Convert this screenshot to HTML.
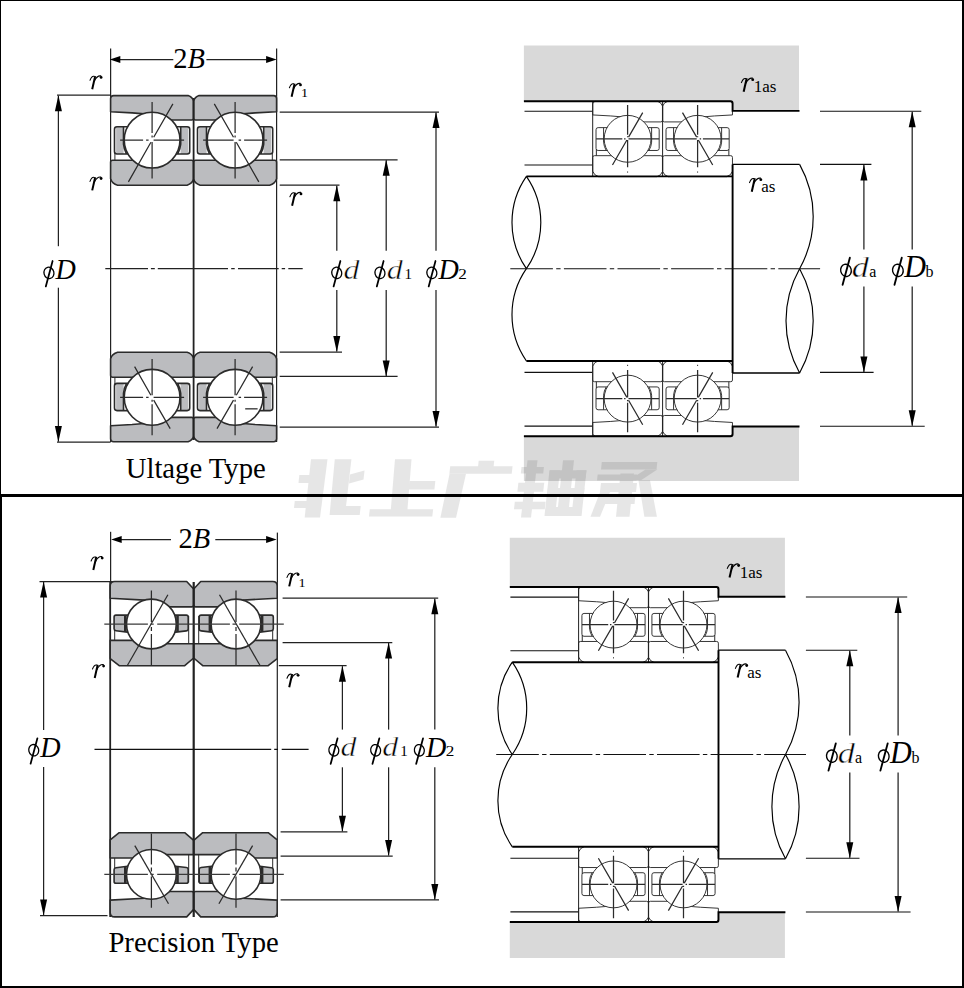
<!DOCTYPE html>
<html><head><meta charset="utf-8"><title>Bearing dimensions</title>
<style>
html,body{margin:0;padding:0;background:#fff;}
body{width:964px;height:988px;overflow:hidden;font-family:"Liberation Serif",serif;}
svg{display:block;}
</style></head><body>
<svg width="964" height="988" viewBox="0 0 964 988">
<rect x="0" y="0" width="964" height="988" fill="#fff"/>
<g transform="translate(0,0)">
<path d="M523.9,45.6 L799,45.6 L799,110.9 L732.6,110.9 L732.6,101.2 L523.9,101.2 Z" fill="#d9d9d9"/>
<path d="M523.9,481.1 L799,481.1 L799,426.5 L732.6,426.5 L732.6,436.2 L523.9,436.2 Z" fill="#d9d9d9"/>
<g opacity="0.095">
<polygon points="311,459.3 327.5,459.3 320,517.4 304.7,517.4" fill="#000"/>
<polygon points="299.38,475 312.88,475 312,483 298.5,483" fill="#000"/>
<polygon points="294.77,501 308.77,501 308,508 294,508" fill="#000"/>
<polygon points="334.8,459.3 351.4,459.3 345,515 329.6,515" fill="#000"/>
<polygon points="350,474.5 364.5,470.5 363.5,479.5 349,483.5" fill="#000"/>
<polygon points="344.99,506 360.69,506 359.7,515 344,515" fill="#000"/>
<polygon points="395,459.3 411.5,459.3 407.4,510 390.8,510" fill="#000"/>
<polygon points="409.42,481 435.32,481 434.4,489.4 408.5,489.4" fill="#000"/>
<polygon points="369.8,509.3 433.1,509.3 432.3,516.6 369,516.6" fill="#000"/>
<polygon points="478.71,460.7 494.21,460.7 493.5,467.2 478,467.2" fill="#000"/>
<polygon points="450.24,466.2 512.54,466.2 511.7,473.8 449.4,473.8" fill="#000"/>
<polygon points="449.6,473.8 466,473.8 456,517.8 440.4,517.8" fill="#000"/>
<polygon points="527.5,460.3 537.5,460.3 531,517.6 521,517.6" fill="#000"/>
<polygon points="521.53,467 543.93,467 543.2,473.6 520.8,473.6" fill="#000"/>
<polygon points="518.4,482.7 544.2,482.7 543.2,491.8 517.4,491.8" fill="#000"/>
<polygon points="514.83,501.8 545.62,501.8 544.8,509.3 514,509.3" fill="#000"/>
<polygon points="549.5,470.3 560,470.3 555,515.9 544.5,515.9" fill="#000"/>
<polygon points="563,460.3 574,460.3 568,515.9 557,515.9" fill="#000"/>
<polygon points="576.5,470.3 586.5,470.3 581.5,515.9 571.5,515.9" fill="#000"/>
<polygon points="549.9,470.3 586.4,470.3 585.5,478.5 549,478.5" fill="#000"/>
<polygon points="547.99,488 584.49,488 583.5,497 547,497" fill="#000"/>
<polygon points="545.98,507 581.98,507 581,515.9 545,515.9" fill="#000"/>
<polygon points="601.81,462 657.31,462 656.5,469.4 601,469.4" fill="#000"/>
<polygon points="645.5,469.4 657.3,469.4 641,480.2 629,480.2" fill="#000"/>
<polygon points="620.5,473.6 634,473.6 629.5,516.7 616,516.7" fill="#000"/>
<polygon points="597.68,474.4 637.18,474.4 636.5,480.6 597,480.6" fill="#000"/>
<polygon points="600.99,483 636.99,483 636,492 600,492" fill="#000"/>
<polygon points="598.88,496 635.38,496 634.5,504 598,504" fill="#000"/>
<polygon points="603.5,483.5 613.5,483.5 600,516.7 590.5,516.7" fill="#000"/>
<polygon points="638.5,480.2 650,480.2 656.9,516.7 644.4,516.7" fill="#000"/>
</g>
<path d="M524.5,111.3 L592.7,111.3" stroke="#111" stroke-width="1.1" fill="none"/>
<path d="M524.5,165 L592.7,165" stroke="#111" stroke-width="1.1" fill="none"/>
<path d="M524.5,372.4 L592.7,372.4" stroke="#111" stroke-width="1.1" fill="none"/>
<path d="M524.5,426.1 L592.7,426.1" stroke="#111" stroke-width="1.1" fill="none"/>
<g transform="translate(627.6,138.8) scale(0.84,0.84)" stroke="#2b2b2b" stroke-width="1.13" stroke-linejoin="round" stroke-linecap="butt" fill="none">
<path fill="none" d="M-38.5,-44.5 L36,-44.5 Q40.3,-43 41.5,-39 L41.5,-22.1 Q41.5,-20.1 39.5,-20.1 L14,-20.1 L0,-10 L-8,-26.2 L-20,-27.2 L-41.5,-28.4 L-41.5,-41.5 Q-41.5,-44.5 -38.5,-44.5 Z"/>
<path fill="none" d="M-39.5,20.1 L-14,20.1 L0,10 L14,20.1 L39.5,20.1 Q41.5,20.1 41.5,22.1 L41.5,39 Q40.1,43.6 35,45.1 L-34.5,45.1 Q-40,43.6 -41.5,38.6 L-41.5,22.1 Q-41.5,20.1 -39.5,20.1 Z"/>
<path fill="none" stroke="none" d="M-36,-13.3 L-28.5,-13.3 L-28.5,13.9 L-36,13.9 Z"/>
<path fill="none" d="M-20,-13.3 L-35.1,-13.3 Q-37.6,-13.3 -37.6,-10.8 L-37.6,11.4 Q-37.6,13.9 -35.1,13.9 L-20,13.9 M-28.6,-13.3 L-28.6,4 Q-28.2,9 -25.5,13.9"/>
<path fill="none" stroke="none" d="M36,-13.3 L28.5,-13.3 L28.5,13.9 L36,13.9 Z"/>
<path fill="none" d="M20,-13.3 L35.1,-13.3 Q37.6,-13.3 37.6,-10.8 L37.6,11.4 Q37.6,13.9 35.1,13.9 L20,13.9 M28.6,-13.3 L28.6,4 Q28.2,9 25.5,13.9"/>
<path d="M-37.2,12.5 L-37.2,20.1" stroke-width="1.19"/>
<circle cx="0" cy="0" r="27.9" fill="#fff"/>
<path stroke-width="1.48" d="M0,-40.2 L0,-4.9 M0,-3.15 L0,-1.75 M0,1.4 L0,34"/>
<path stroke-width="1.48" d="M-37.5,0 L-6.3,0 M-4.2,0 L-2.45,0 M1.05,0 L37.5,0"/>
<path stroke-width="1.48" d="M18,-31.2 L1.12,-1.96 M-0.84,1.47 L-18,31.2"/>
</g>
<g transform="translate(627.6,398.6) scale(0.84,-0.84)" stroke="#2b2b2b" stroke-width="1.13" stroke-linejoin="round" stroke-linecap="butt" fill="none">
<path fill="none" d="M-38.5,-44.5 L36,-44.5 Q40.3,-43 41.5,-39 L41.5,-22.1 Q41.5,-20.1 39.5,-20.1 L14,-20.1 L0,-10 L-8,-26.2 L-20,-27.2 L-41.5,-28.4 L-41.5,-41.5 Q-41.5,-44.5 -38.5,-44.5 Z"/>
<path fill="none" d="M-39.5,20.1 L-14,20.1 L0,10 L14,20.1 L39.5,20.1 Q41.5,20.1 41.5,22.1 L41.5,39 Q40.1,43.6 35,45.1 L-34.5,45.1 Q-40,43.6 -41.5,38.6 L-41.5,22.1 Q-41.5,20.1 -39.5,20.1 Z"/>
<path fill="none" stroke="none" d="M-36,-13.3 L-28.5,-13.3 L-28.5,13.9 L-36,13.9 Z"/>
<path fill="none" d="M-20,-13.3 L-35.1,-13.3 Q-37.6,-13.3 -37.6,-10.8 L-37.6,11.4 Q-37.6,13.9 -35.1,13.9 L-20,13.9 M-28.6,-13.3 L-28.6,4 Q-28.2,9 -25.5,13.9"/>
<path fill="none" stroke="none" d="M36,-13.3 L28.5,-13.3 L28.5,13.9 L36,13.9 Z"/>
<path fill="none" d="M20,-13.3 L35.1,-13.3 Q37.6,-13.3 37.6,-10.8 L37.6,11.4 Q37.6,13.9 35.1,13.9 L20,13.9 M28.6,-13.3 L28.6,4 Q28.2,9 25.5,13.9"/>
<path d="M-37.2,12.5 L-37.2,20.1" stroke-width="1.19"/>
<circle cx="0" cy="0" r="27.9" fill="#fff"/>
<path stroke-width="1.48" d="M0,-40.2 L0,-4.9 M0,-3.15 L0,-1.75 M0,1.4 L0,34"/>
<path stroke-width="1.48" d="M-37.5,0 L-6.3,0 M-4.2,0 L-2.45,0 M1.05,0 L37.5,0"/>
<path stroke-width="1.48" d="M18,-31.2 L1.12,-1.96 M-0.84,1.47 L-18,31.2"/>
</g>
<g transform="translate(697.6,138.8) scale(-0.84,0.84)" stroke="#2b2b2b" stroke-width="1.13" stroke-linejoin="round" stroke-linecap="butt" fill="none">
<path fill="none" d="M-38.5,-44.5 L36,-44.5 Q40.3,-43 41.5,-39 L41.5,-22.1 Q41.5,-20.1 39.5,-20.1 L14,-20.1 L0,-10 L-8,-26.2 L-20,-27.2 L-41.5,-28.4 L-41.5,-41.5 Q-41.5,-44.5 -38.5,-44.5 Z"/>
<path fill="none" d="M-39.5,20.1 L-14,20.1 L0,10 L14,20.1 L39.5,20.1 Q41.5,20.1 41.5,22.1 L41.5,39 Q40.1,43.6 35,45.1 L-34.5,45.1 Q-40,43.6 -41.5,38.6 L-41.5,22.1 Q-41.5,20.1 -39.5,20.1 Z"/>
<path fill="none" stroke="none" d="M-36,-13.3 L-28.5,-13.3 L-28.5,13.9 L-36,13.9 Z"/>
<path fill="none" d="M-20,-13.3 L-35.1,-13.3 Q-37.6,-13.3 -37.6,-10.8 L-37.6,11.4 Q-37.6,13.9 -35.1,13.9 L-20,13.9 M-28.6,-13.3 L-28.6,4 Q-28.2,9 -25.5,13.9"/>
<path fill="none" stroke="none" d="M36,-13.3 L28.5,-13.3 L28.5,13.9 L36,13.9 Z"/>
<path fill="none" d="M20,-13.3 L35.1,-13.3 Q37.6,-13.3 37.6,-10.8 L37.6,11.4 Q37.6,13.9 35.1,13.9 L20,13.9 M28.6,-13.3 L28.6,4 Q28.2,9 25.5,13.9"/>
<path d="M-37.2,12.5 L-37.2,20.1" stroke-width="1.19"/>
<circle cx="0" cy="0" r="27.9" fill="#fff"/>
<path stroke-width="1.48" d="M0,-40.2 L0,-4.9 M0,-3.15 L0,-1.75 M0,1.4 L0,34"/>
<path stroke-width="1.48" d="M-37.5,0 L-6.3,0 M-4.2,0 L-2.45,0 M1.05,0 L37.5,0"/>
<path stroke-width="1.48" d="M18,-31.2 L1.12,-1.96 M-0.84,1.47 L-18,31.2"/>
</g>
<g transform="translate(697.6,398.6) scale(-0.84,-0.84)" stroke="#2b2b2b" stroke-width="1.13" stroke-linejoin="round" stroke-linecap="butt" fill="none">
<path fill="none" d="M-38.5,-44.5 L36,-44.5 Q40.3,-43 41.5,-39 L41.5,-22.1 Q41.5,-20.1 39.5,-20.1 L14,-20.1 L0,-10 L-8,-26.2 L-20,-27.2 L-41.5,-28.4 L-41.5,-41.5 Q-41.5,-44.5 -38.5,-44.5 Z"/>
<path fill="none" d="M-39.5,20.1 L-14,20.1 L0,10 L14,20.1 L39.5,20.1 Q41.5,20.1 41.5,22.1 L41.5,39 Q40.1,43.6 35,45.1 L-34.5,45.1 Q-40,43.6 -41.5,38.6 L-41.5,22.1 Q-41.5,20.1 -39.5,20.1 Z"/>
<path fill="none" stroke="none" d="M-36,-13.3 L-28.5,-13.3 L-28.5,13.9 L-36,13.9 Z"/>
<path fill="none" d="M-20,-13.3 L-35.1,-13.3 Q-37.6,-13.3 -37.6,-10.8 L-37.6,11.4 Q-37.6,13.9 -35.1,13.9 L-20,13.9 M-28.6,-13.3 L-28.6,4 Q-28.2,9 -25.5,13.9"/>
<path fill="none" stroke="none" d="M36,-13.3 L28.5,-13.3 L28.5,13.9 L36,13.9 Z"/>
<path fill="none" d="M20,-13.3 L35.1,-13.3 Q37.6,-13.3 37.6,-10.8 L37.6,11.4 Q37.6,13.9 35.1,13.9 L20,13.9 M28.6,-13.3 L28.6,4 Q28.2,9 25.5,13.9"/>
<path d="M-37.2,12.5 L-37.2,20.1" stroke-width="1.19"/>
<circle cx="0" cy="0" r="27.9" fill="#fff"/>
<path stroke-width="1.48" d="M0,-40.2 L0,-4.9 M0,-3.15 L0,-1.75 M0,1.4 L0,34"/>
<path stroke-width="1.48" d="M-37.5,0 L-6.3,0 M-4.2,0 L-2.45,0 M1.05,0 L37.5,0"/>
<path stroke-width="1.48" d="M18,-31.2 L1.12,-1.96 M-0.84,1.47 L-18,31.2"/>
</g>
<path d="M627.6,171.5 L627.6,172.6" stroke="#222" stroke-width="1" fill="none"/>
<path d="M627.6,364.8 L627.6,365.9" stroke="#222" stroke-width="1" fill="none"/>
<path d="M697.6,171.5 L697.6,172.6" stroke="#222" stroke-width="1" fill="none"/>
<path d="M697.6,364.8 L697.6,365.9" stroke="#222" stroke-width="1" fill="none"/>
<path d="M592.7,101.2 L592.7,176.4" stroke="#222" stroke-width="1" fill="none"/>
<path d="M592.7,361 L592.7,436.2" stroke="#222" stroke-width="1" fill="none"/>
<path d="M662.6,101.2 L662.6,176.4" stroke="#222" stroke-width="1" fill="none"/>
<path d="M662.6,361 L662.6,436.2" stroke="#222" stroke-width="1" fill="none"/>
<path d="M523.9,101.2 L730.6,101.2 Q732.6,101.2 732.6,103.2 L732.6,110.9 L799.5,110.9" fill="none" stroke="#000" stroke-width="1.9"/>
<path d="M523.9,436.2 L730.6,436.2 Q732.6,436.2 732.6,434.2 L732.6,426.5 L799.5,426.5" fill="none" stroke="#000" stroke-width="1.9"/>
<path d="M526.4,176.4 L732.6,176.4 M526.4,361 L732.6,361 M732.6,164.4 L732.6,373" fill="none" stroke="#000" stroke-width="1.9"/>
<path d="M732.6,164.4 L799.6,164.4 M732.6,373 L799.6,373" fill="none" stroke="#000" stroke-width="1.3"/>
<path d="M526.4,176.4 A81.1,81.1 0 0 0 526.4,268.7 A81.1,81.1 0 0 0 526.4,361 M526.4,176.4 A81.1,81.1 0 0 1 526.4,268.7" fill="none" stroke="#000" stroke-width="1.15"/>
<path d="M799.6,164.4 A106.8,106.8 0 0 1 799.6,268.7 A106.8,106.8 0 0 1 799.6,373 M799.6,268.7 A106.8,106.8 0 0 0 799.6,373" fill="none" stroke="#000" stroke-width="1.15"/>
<path d="M510.3,268.7 L820.1,268.7" stroke="#111" stroke-width="1.15" stroke-dasharray="42.6 3.3 4.4 3.3" fill="none"/>
<path d="M820,111.2 L921.3,111.2" stroke="#111" stroke-width="1.1" fill="none"/>
<path d="M820,426.2 L924.7,426.2" stroke="#111" stroke-width="1.1" fill="none"/>
<path d="M820,164.4 L871.4,164.4" stroke="#111" stroke-width="1.1" fill="none"/>
<path d="M820,372.4 L873.6,372.4" stroke="#111" stroke-width="1.1" fill="none"/>
<path d="M863.9,164.9 L863.9,249.6" stroke="#222" stroke-width="1.25" fill="none"/>
<path d="M863.9,286.6 L863.9,371.9" stroke="#222" stroke-width="1.25" fill="none"/>
<polygon points="863.9,164.4 860.4,180.4 867.4,180.4" fill="#000"/>
<polygon points="863.9,372.4 860.4,356.4 867.4,356.4" fill="#000"/>
<path d="M912.2,111.7 L912.2,249.6" stroke="#222" stroke-width="1.25" fill="none"/>
<path d="M912.2,286.6 L912.2,425.7" stroke="#222" stroke-width="1.25" fill="none"/>
<polygon points="912.2,111.2 908.7,127.2 915.7,127.2" fill="#000"/>
<polygon points="912.2,426.2 908.7,410.2 915.7,410.2" fill="#000"/>
<ellipse cx="845.97" cy="270.38" rx="5.3" ry="6.15" transform="rotate(-14 845.97 270.38)" fill="none" stroke="#000" stroke-width="1.39"/><path d="M849.87,257.65 L842.6,284.82" stroke="#000" stroke-width="1.87" stroke-linecap="round" fill="none"/>
<text transform="translate(851.77,276.8) scale(1,0.85)" font-family="'Liberation Serif', serif" font-size="34.24" font-style="italic" fill="#000" stroke="#fff" stroke-width="0.55">d</text>
<text transform="translate(869.2,276.8) scale(1,1)" font-family="'Liberation Serif', serif" font-size="16"  fill="#000">a</text>
<ellipse cx="897.87" cy="270.38" rx="5.3" ry="6.15" transform="rotate(-14 897.87 270.38)" fill="none" stroke="#000" stroke-width="1.39"/><path d="M901.77,257.65 L894.5,284.82" stroke="#000" stroke-width="1.87" stroke-linecap="round" fill="none"/>
<text transform="translate(904.13,277.1) scale(0.96,1)" font-family="'Liberation Serif', serif" font-size="31.35" font-style="italic" fill="#000">D</text>
<text transform="translate(925.6,276.8) scale(1,1)" font-family="'Liberation Serif', serif" font-size="16"  fill="#000">b</text>
<path d="M741.41,82.62 Q743.25,77.93 745.59,78.54" stroke="#000" stroke-width="1.07" stroke-linecap="round" fill="none"/><path d="M746.71,78.34 L743.65,91.8" stroke="#000" stroke-width="2.04" stroke-linecap="butt" fill="none"/><path d="M746,83.03 Q748.65,77.62 752.43,78.13" stroke="#000" stroke-width="1.12" stroke-linecap="round" fill="none"/><circle cx="752.73" cy="79.66" r="1.43" fill="#000"/>
<text transform="translate(753.8,91.9) scale(1,1)" font-family="'Liberation Serif', serif" font-size="17"  fill="#000">1as</text>
<path d="M749.51,182.62 Q751.35,177.93 753.69,178.54" stroke="#000" stroke-width="1.07" stroke-linecap="round" fill="none"/><path d="M754.81,178.34 L751.75,191.8" stroke="#000" stroke-width="2.04" stroke-linecap="butt" fill="none"/><path d="M754.1,183.03 Q756.75,177.62 760.53,178.13" stroke="#000" stroke-width="1.12" stroke-linecap="round" fill="none"/><circle cx="760.83" cy="179.66" r="1.43" fill="#000"/>
<text transform="translate(761.3,191.9) scale(1,1)" font-family="'Liberation Serif', serif" font-size="17"  fill="#000">as</text>
</g>
<g transform="translate(-14.1,485.8)">
<path d="M523.9,52 L799,52 L799,110.9 L732.6,110.9 L732.6,101.2 L523.9,101.2 Z" fill="#d9d9d9"/>
<path d="M523.9,472.2 L799,472.2 L799,426.5 L732.6,426.5 L732.6,436.2 L523.9,436.2 Z" fill="#d9d9d9"/>

<path d="M524.5,111.3 L592.7,111.3" stroke="#111" stroke-width="1.1" fill="none"/>
<path d="M524.5,165 L592.7,165" stroke="#111" stroke-width="1.1" fill="none"/>
<path d="M524.5,372.4 L592.7,372.4" stroke="#111" stroke-width="1.1" fill="none"/>
<path d="M524.5,426.1 L592.7,426.1" stroke="#111" stroke-width="1.1" fill="none"/>
<g transform="translate(627.6,138.8) scale(0.84,0.84)" stroke="#2b2b2b" stroke-width="1.13" stroke-linejoin="round" stroke-linecap="butt" fill="none">
<path fill="none" d="M-38.5,-44.5 L36,-44.5 Q40.3,-43 41.5,-39 L41.5,-22.1 Q41.5,-20.1 39.5,-20.1 L14,-20.1 L0,-10 L-8,-26.2 L-20,-27.2 L-41.5,-28.4 L-41.5,-41.5 Q-41.5,-44.5 -38.5,-44.5 Z"/>
<path fill="none" d="M-39.5,20.1 L-14,20.1 L0,10 L14,20.1 L39.5,20.1 Q41.5,20.1 41.5,22.1 L41.5,39 Q40.1,43.6 35,45.1 L-34.5,45.1 Q-40,43.6 -41.5,38.6 L-41.5,22.1 Q-41.5,20.1 -39.5,20.1 Z"/>
<path fill="none" stroke="none" d="M-36,-13.3 L-28.5,-13.3 L-28.5,13.9 L-36,13.9 Z"/>
<path fill="none" d="M-20,-13.3 L-35.1,-13.3 Q-37.6,-13.3 -37.6,-10.8 L-37.6,11.4 Q-37.6,13.9 -35.1,13.9 L-20,13.9 M-28.6,-13.3 L-28.6,4 Q-28.2,9 -25.5,13.9"/>
<path fill="none" stroke="none" d="M36,-13.3 L28.5,-13.3 L28.5,13.9 L36,13.9 Z"/>
<path fill="none" d="M20,-13.3 L35.1,-13.3 Q37.6,-13.3 37.6,-10.8 L37.6,11.4 Q37.6,13.9 35.1,13.9 L20,13.9 M28.6,-13.3 L28.6,4 Q28.2,9 25.5,13.9"/>
<path d="M-37.2,12.5 L-37.2,20.1" stroke-width="1.19"/>
<circle cx="0" cy="0" r="27.9" fill="#fff"/>
<path stroke-width="1.48" d="M0,-40.2 L0,-4.9 M0,-3.15 L0,-1.75 M0,1.4 L0,34"/>
<path stroke-width="1.48" d="M-37.5,0 L-6.3,0 M-4.2,0 L-2.45,0 M1.05,0 L37.5,0"/>
<path stroke-width="1.48" d="M18,-31.2 L1.12,-1.96 M-0.84,1.47 L-18,31.2"/>
</g>
<g transform="translate(627.6,398.6) scale(0.84,-0.84)" stroke="#2b2b2b" stroke-width="1.13" stroke-linejoin="round" stroke-linecap="butt" fill="none">
<path fill="none" d="M-38.5,-44.5 L36,-44.5 Q40.3,-43 41.5,-39 L41.5,-22.1 Q41.5,-20.1 39.5,-20.1 L14,-20.1 L0,-10 L-8,-26.2 L-20,-27.2 L-41.5,-28.4 L-41.5,-41.5 Q-41.5,-44.5 -38.5,-44.5 Z"/>
<path fill="none" d="M-39.5,20.1 L-14,20.1 L0,10 L14,20.1 L39.5,20.1 Q41.5,20.1 41.5,22.1 L41.5,39 Q40.1,43.6 35,45.1 L-34.5,45.1 Q-40,43.6 -41.5,38.6 L-41.5,22.1 Q-41.5,20.1 -39.5,20.1 Z"/>
<path fill="none" stroke="none" d="M-36,-13.3 L-28.5,-13.3 L-28.5,13.9 L-36,13.9 Z"/>
<path fill="none" d="M-20,-13.3 L-35.1,-13.3 Q-37.6,-13.3 -37.6,-10.8 L-37.6,11.4 Q-37.6,13.9 -35.1,13.9 L-20,13.9 M-28.6,-13.3 L-28.6,4 Q-28.2,9 -25.5,13.9"/>
<path fill="none" stroke="none" d="M36,-13.3 L28.5,-13.3 L28.5,13.9 L36,13.9 Z"/>
<path fill="none" d="M20,-13.3 L35.1,-13.3 Q37.6,-13.3 37.6,-10.8 L37.6,11.4 Q37.6,13.9 35.1,13.9 L20,13.9 M28.6,-13.3 L28.6,4 Q28.2,9 25.5,13.9"/>
<path d="M-37.2,12.5 L-37.2,20.1" stroke-width="1.19"/>
<circle cx="0" cy="0" r="27.9" fill="#fff"/>
<path stroke-width="1.48" d="M0,-40.2 L0,-4.9 M0,-3.15 L0,-1.75 M0,1.4 L0,34"/>
<path stroke-width="1.48" d="M-37.5,0 L-6.3,0 M-4.2,0 L-2.45,0 M1.05,0 L37.5,0"/>
<path stroke-width="1.48" d="M18,-31.2 L1.12,-1.96 M-0.84,1.47 L-18,31.2"/>
</g>
<g transform="translate(697.6,138.8) scale(-0.84,0.84)" stroke="#2b2b2b" stroke-width="1.13" stroke-linejoin="round" stroke-linecap="butt" fill="none">
<path fill="none" d="M-38.5,-44.5 L36,-44.5 Q40.3,-43 41.5,-39 L41.5,-22.1 Q41.5,-20.1 39.5,-20.1 L14,-20.1 L0,-10 L-8,-26.2 L-20,-27.2 L-41.5,-28.4 L-41.5,-41.5 Q-41.5,-44.5 -38.5,-44.5 Z"/>
<path fill="none" d="M-39.5,20.1 L-14,20.1 L0,10 L14,20.1 L39.5,20.1 Q41.5,20.1 41.5,22.1 L41.5,39 Q40.1,43.6 35,45.1 L-34.5,45.1 Q-40,43.6 -41.5,38.6 L-41.5,22.1 Q-41.5,20.1 -39.5,20.1 Z"/>
<path fill="none" stroke="none" d="M-36,-13.3 L-28.5,-13.3 L-28.5,13.9 L-36,13.9 Z"/>
<path fill="none" d="M-20,-13.3 L-35.1,-13.3 Q-37.6,-13.3 -37.6,-10.8 L-37.6,11.4 Q-37.6,13.9 -35.1,13.9 L-20,13.9 M-28.6,-13.3 L-28.6,4 Q-28.2,9 -25.5,13.9"/>
<path fill="none" stroke="none" d="M36,-13.3 L28.5,-13.3 L28.5,13.9 L36,13.9 Z"/>
<path fill="none" d="M20,-13.3 L35.1,-13.3 Q37.6,-13.3 37.6,-10.8 L37.6,11.4 Q37.6,13.9 35.1,13.9 L20,13.9 M28.6,-13.3 L28.6,4 Q28.2,9 25.5,13.9"/>
<path d="M-37.2,12.5 L-37.2,20.1" stroke-width="1.19"/>
<circle cx="0" cy="0" r="27.9" fill="#fff"/>
<path stroke-width="1.48" d="M0,-40.2 L0,-4.9 M0,-3.15 L0,-1.75 M0,1.4 L0,34"/>
<path stroke-width="1.48" d="M-37.5,0 L-6.3,0 M-4.2,0 L-2.45,0 M1.05,0 L37.5,0"/>
<path stroke-width="1.48" d="M18,-31.2 L1.12,-1.96 M-0.84,1.47 L-18,31.2"/>
</g>
<g transform="translate(697.6,398.6) scale(-0.84,-0.84)" stroke="#2b2b2b" stroke-width="1.13" stroke-linejoin="round" stroke-linecap="butt" fill="none">
<path fill="none" d="M-38.5,-44.5 L36,-44.5 Q40.3,-43 41.5,-39 L41.5,-22.1 Q41.5,-20.1 39.5,-20.1 L14,-20.1 L0,-10 L-8,-26.2 L-20,-27.2 L-41.5,-28.4 L-41.5,-41.5 Q-41.5,-44.5 -38.5,-44.5 Z"/>
<path fill="none" d="M-39.5,20.1 L-14,20.1 L0,10 L14,20.1 L39.5,20.1 Q41.5,20.1 41.5,22.1 L41.5,39 Q40.1,43.6 35,45.1 L-34.5,45.1 Q-40,43.6 -41.5,38.6 L-41.5,22.1 Q-41.5,20.1 -39.5,20.1 Z"/>
<path fill="none" stroke="none" d="M-36,-13.3 L-28.5,-13.3 L-28.5,13.9 L-36,13.9 Z"/>
<path fill="none" d="M-20,-13.3 L-35.1,-13.3 Q-37.6,-13.3 -37.6,-10.8 L-37.6,11.4 Q-37.6,13.9 -35.1,13.9 L-20,13.9 M-28.6,-13.3 L-28.6,4 Q-28.2,9 -25.5,13.9"/>
<path fill="none" stroke="none" d="M36,-13.3 L28.5,-13.3 L28.5,13.9 L36,13.9 Z"/>
<path fill="none" d="M20,-13.3 L35.1,-13.3 Q37.6,-13.3 37.6,-10.8 L37.6,11.4 Q37.6,13.9 35.1,13.9 L20,13.9 M28.6,-13.3 L28.6,4 Q28.2,9 25.5,13.9"/>
<path d="M-37.2,12.5 L-37.2,20.1" stroke-width="1.19"/>
<circle cx="0" cy="0" r="27.9" fill="#fff"/>
<path stroke-width="1.48" d="M0,-40.2 L0,-4.9 M0,-3.15 L0,-1.75 M0,1.4 L0,34"/>
<path stroke-width="1.48" d="M-37.5,0 L-6.3,0 M-4.2,0 L-2.45,0 M1.05,0 L37.5,0"/>
<path stroke-width="1.48" d="M18,-31.2 L1.12,-1.96 M-0.84,1.47 L-18,31.2"/>
</g>
<path d="M627.6,171.5 L627.6,172.6" stroke="#222" stroke-width="1" fill="none"/>
<path d="M627.6,364.8 L627.6,365.9" stroke="#222" stroke-width="1" fill="none"/>
<path d="M697.6,171.5 L697.6,172.6" stroke="#222" stroke-width="1" fill="none"/>
<path d="M697.6,364.8 L697.6,365.9" stroke="#222" stroke-width="1" fill="none"/>
<path d="M592.7,101.2 L592.7,176.4" stroke="#222" stroke-width="1" fill="none"/>
<path d="M592.7,361 L592.7,436.2" stroke="#222" stroke-width="1" fill="none"/>
<path d="M662.6,101.2 L662.6,176.4" stroke="#222" stroke-width="1" fill="none"/>
<path d="M662.6,361 L662.6,436.2" stroke="#222" stroke-width="1" fill="none"/>
<path d="M523.9,101.2 L730.6,101.2 Q732.6,101.2 732.6,103.2 L732.6,110.9 L799.5,110.9" fill="none" stroke="#000" stroke-width="1.9"/>
<path d="M523.9,436.2 L730.6,436.2 Q732.6,436.2 732.6,434.2 L732.6,426.5 L799.5,426.5" fill="none" stroke="#000" stroke-width="1.9"/>
<path d="M526.4,176.4 L732.6,176.4 M526.4,361 L732.6,361 M732.6,164.4 L732.6,373" fill="none" stroke="#000" stroke-width="1.9"/>
<path d="M732.6,164.4 L799.6,164.4 M732.6,373 L799.6,373" fill="none" stroke="#000" stroke-width="1.3"/>
<path d="M526.4,176.4 A81.1,81.1 0 0 0 526.4,268.7 A81.1,81.1 0 0 0 526.4,361 M526.4,176.4 A81.1,81.1 0 0 1 526.4,268.7" fill="none" stroke="#000" stroke-width="1.15"/>
<path d="M799.6,164.4 A106.8,106.8 0 0 1 799.6,268.7 A106.8,106.8 0 0 1 799.6,373 M799.6,268.7 A106.8,106.8 0 0 0 799.6,373" fill="none" stroke="#000" stroke-width="1.15"/>
<path d="M510.3,268.7 L820.1,268.7" stroke="#111" stroke-width="1.15" stroke-dasharray="42.6 3.3 4.4 3.3" fill="none"/>
<path d="M820,111.2 L921.3,111.2" stroke="#111" stroke-width="1.1" fill="none"/>
<path d="M820,426.2 L924.7,426.2" stroke="#111" stroke-width="1.1" fill="none"/>
<path d="M820,164.4 L871.4,164.4" stroke="#111" stroke-width="1.1" fill="none"/>
<path d="M820,372.4 L873.6,372.4" stroke="#111" stroke-width="1.1" fill="none"/>
<path d="M863.9,164.9 L863.9,249.6" stroke="#222" stroke-width="1.25" fill="none"/>
<path d="M863.9,286.6 L863.9,371.9" stroke="#222" stroke-width="1.25" fill="none"/>
<polygon points="863.9,164.4 860.4,180.4 867.4,180.4" fill="#000"/>
<polygon points="863.9,372.4 860.4,356.4 867.4,356.4" fill="#000"/>
<path d="M912.2,111.7 L912.2,249.6" stroke="#222" stroke-width="1.25" fill="none"/>
<path d="M912.2,286.6 L912.2,425.7" stroke="#222" stroke-width="1.25" fill="none"/>
<polygon points="912.2,111.2 908.7,127.2 915.7,127.2" fill="#000"/>
<polygon points="912.2,426.2 908.7,410.2 915.7,410.2" fill="#000"/>
<ellipse cx="845.97" cy="270.38" rx="5.3" ry="6.15" transform="rotate(-14 845.97 270.38)" fill="none" stroke="#000" stroke-width="1.39"/><path d="M849.87,257.65 L842.6,284.82" stroke="#000" stroke-width="1.87" stroke-linecap="round" fill="none"/>
<text transform="translate(851.77,276.8) scale(1,0.85)" font-family="'Liberation Serif', serif" font-size="34.24" font-style="italic" fill="#000" stroke="#fff" stroke-width="0.55">d</text>
<text transform="translate(869.2,276.8) scale(1,1)" font-family="'Liberation Serif', serif" font-size="16"  fill="#000">a</text>
<ellipse cx="897.87" cy="270.38" rx="5.3" ry="6.15" transform="rotate(-14 897.87 270.38)" fill="none" stroke="#000" stroke-width="1.39"/><path d="M901.77,257.65 L894.5,284.82" stroke="#000" stroke-width="1.87" stroke-linecap="round" fill="none"/>
<text transform="translate(904.13,277.1) scale(0.96,1)" font-family="'Liberation Serif', serif" font-size="31.35" font-style="italic" fill="#000">D</text>
<text transform="translate(925.6,276.8) scale(1,1)" font-family="'Liberation Serif', serif" font-size="16"  fill="#000">b</text>
<path d="M741.41,82.62 Q743.25,77.93 745.59,78.54" stroke="#000" stroke-width="1.07" stroke-linecap="round" fill="none"/><path d="M746.71,78.34 L743.65,91.8" stroke="#000" stroke-width="2.04" stroke-linecap="butt" fill="none"/><path d="M746,83.03 Q748.65,77.62 752.43,78.13" stroke="#000" stroke-width="1.12" stroke-linecap="round" fill="none"/><circle cx="752.73" cy="79.66" r="1.43" fill="#000"/>
<text transform="translate(753.8,91.9) scale(1,1)" font-family="'Liberation Serif', serif" font-size="17"  fill="#000">1as</text>
<path d="M749.51,182.62 Q751.35,177.93 753.69,178.54" stroke="#000" stroke-width="1.07" stroke-linecap="round" fill="none"/><path d="M754.81,178.34 L751.75,191.8" stroke="#000" stroke-width="2.04" stroke-linecap="butt" fill="none"/><path d="M754.1,183.03 Q756.75,177.62 760.53,178.13" stroke="#000" stroke-width="1.12" stroke-linecap="round" fill="none"/><circle cx="760.83" cy="179.66" r="1.43" fill="#000"/>
<text transform="translate(761.3,191.9) scale(1,1)" font-family="'Liberation Serif', serif" font-size="17"  fill="#000">as</text>
</g>
<path d="M110.6,48.5 L110.6,96" stroke="#222" stroke-width="1.25" fill="none"/>
<path d="M276.6,48.5 L276.6,96" stroke="#222" stroke-width="1.25" fill="none"/>
<path d="M118,59.6 L173.3,59.6" stroke="#222" stroke-width="1.25" fill="none"/>
<path d="M206.4,59.6 L269,59.6" stroke="#222" stroke-width="1.25" fill="none"/>
<polygon points="109.8,59.6 120.3,56.1 120.3,63.1" fill="#000"/>
<polygon points="276.6,59.6 266.1,56.1 266.1,63.1" fill="#000"/>
<path d="M57,95.2 L110.6,95.2" stroke="#222" stroke-width="1.25" fill="none"/>
<path d="M57,442.1 L110.6,442.1" stroke="#222" stroke-width="1.25" fill="none"/>
<path d="M58.4,95.7 L58.4,246.2" stroke="#222" stroke-width="1.25" fill="none"/>
<path d="M58.4,287.7 L58.4,441.6" stroke="#222" stroke-width="1.25" fill="none"/>
<polygon points="58.4,95.2 54.9,111.2 61.9,111.2" fill="#000"/>
<polygon points="58.4,442.1 54.9,426.1 61.9,426.1" fill="#000"/>
<path d="M279.7,112 L439,112" stroke="#222" stroke-width="1.25" fill="none"/>
<path d="M279.7,427 L439,427" stroke="#222" stroke-width="1.25" fill="none"/>
<path d="M279.7,159.8 L397.6,159.8" stroke="#222" stroke-width="1.25" fill="none"/>
<path d="M279.7,376.4 L397.6,376.4" stroke="#222" stroke-width="1.25" fill="none"/>
<path d="M279.7,185.2 L339.5,185.2" stroke="#222" stroke-width="1.25" fill="none"/>
<path d="M279.7,352.1 L342,352.1" stroke="#222" stroke-width="1.25" fill="none"/>
<path d="M436,112.5 L436,250.8" stroke="#222" stroke-width="1.25" fill="none"/>
<path d="M436,290 L436,426.5" stroke="#222" stroke-width="1.25" fill="none"/>
<polygon points="436,112 432.5,128 439.5,128" fill="#000"/>
<polygon points="436,427 432.5,411 439.5,411" fill="#000"/>
<path d="M386.2,160.3 L386.2,250.8" stroke="#222" stroke-width="1.25" fill="none"/>
<path d="M386.2,290 L386.2,375.9" stroke="#222" stroke-width="1.25" fill="none"/>
<polygon points="386.2,159.8 382.7,175.8 389.7,175.8" fill="#000"/>
<polygon points="386.2,376.4 382.7,360.4 389.7,360.4" fill="#000"/>
<path d="M336.8,185.7 L336.8,250.8" stroke="#222" stroke-width="1.25" fill="none"/>
<path d="M336.8,290 L336.8,351.6" stroke="#222" stroke-width="1.25" fill="none"/>
<polygon points="336.8,185.2 333.3,201.2 340.3,201.2" fill="#000"/>
<polygon points="336.8,352.1 333.3,336.1 340.3,336.1" fill="#000"/>
<path d="M110.6,96 L110.6,442" stroke="#222" stroke-width="1.2" fill="none"/>
<path d="M276.6,96 L276.6,442" stroke="#222" stroke-width="1.2" fill="none"/>
<g transform="translate(152.1,140.1) scale(1,1)" stroke="#2b2b2b" stroke-width="1.6" stroke-linejoin="round" stroke-linecap="butt" fill="none">
<path fill="#bbbcbf" d="M-38.5,-44.5 L36,-44.5 Q40.3,-43 41.5,-39 L41.5,-22.1 Q41.5,-20.1 39.5,-20.1 L14,-20.1 L0,-10 L-8,-26.2 L-20,-27.2 L-41.5,-28.4 L-41.5,-41.5 Q-41.5,-44.5 -38.5,-44.5 Z"/>
<path fill="#bbbcbf" d="M-39.5,20.1 L-14,20.1 L0,10 L14,20.1 L39.5,20.1 Q41.5,20.1 41.5,22.1 L41.5,39 Q40.1,43.6 35,45.1 L-34.5,45.1 Q-40,43.6 -41.5,38.6 L-41.5,22.1 Q-41.5,20.1 -39.5,20.1 Z"/>
<path fill="#bbbcbf" stroke="none" d="M-36,-13.3 L-28.5,-13.3 L-28.5,13.9 L-36,13.9 Z"/>
<path fill="none" d="M-20,-13.3 L-35.1,-13.3 Q-37.6,-13.3 -37.6,-10.8 L-37.6,11.4 Q-37.6,13.9 -35.1,13.9 L-20,13.9 M-28.6,-13.3 L-28.6,4 Q-28.2,9 -25.5,13.9"/>
<path fill="#bbbcbf" stroke="none" d="M36,-13.3 L28.5,-13.3 L28.5,13.9 L36,13.9 Z"/>
<path fill="none" d="M20,-13.3 L35.1,-13.3 Q37.6,-13.3 37.6,-10.8 L37.6,11.4 Q37.6,13.9 35.1,13.9 L20,13.9 M28.6,-13.3 L28.6,4 Q28.2,9 25.5,13.9"/>
<path d="M-37.2,12.5 L-37.2,20.1" stroke-width="1"/>
<circle cx="0" cy="0" r="27.9" fill="#fff"/>
<path stroke-width="1.25" d="M0,-38 L0,-7 M0,-4.5 L0,-2.5 M0,2 L0,38.4"/>
<path stroke-width="1.25" d="M-32,0 L-9,0 M-6,0 L-3.5,0 M1.5,0 L32,0"/>
<path stroke-width="1.25" d="M20.8,-36.2 L1.6,-2.8 M-1.2,2.1 L-23.7,41.8"/>
</g>
<g transform="translate(152.1,397.3) scale(1,-1)" stroke="#2b2b2b" stroke-width="1.6" stroke-linejoin="round" stroke-linecap="butt" fill="none">
<path fill="#bbbcbf" d="M-38.5,-44.5 L36,-44.5 Q40.3,-43 41.5,-39 L41.5,-22.1 Q41.5,-20.1 39.5,-20.1 L14,-20.1 L0,-10 L-8,-26.2 L-20,-27.2 L-41.5,-28.4 L-41.5,-41.5 Q-41.5,-44.5 -38.5,-44.5 Z"/>
<path fill="#bbbcbf" d="M-39.5,20.1 L-14,20.1 L0,10 L14,20.1 L39.5,20.1 Q41.5,20.1 41.5,22.1 L41.5,39 Q40.1,43.6 35,45.1 L-34.5,45.1 Q-40,43.6 -41.5,38.6 L-41.5,22.1 Q-41.5,20.1 -39.5,20.1 Z"/>
<path fill="#bbbcbf" stroke="none" d="M-36,-13.3 L-28.5,-13.3 L-28.5,13.9 L-36,13.9 Z"/>
<path fill="none" d="M-20,-13.3 L-35.1,-13.3 Q-37.6,-13.3 -37.6,-10.8 L-37.6,11.4 Q-37.6,13.9 -35.1,13.9 L-20,13.9 M-28.6,-13.3 L-28.6,4 Q-28.2,9 -25.5,13.9"/>
<path fill="#bbbcbf" stroke="none" d="M36,-13.3 L28.5,-13.3 L28.5,13.9 L36,13.9 Z"/>
<path fill="none" d="M20,-13.3 L35.1,-13.3 Q37.6,-13.3 37.6,-10.8 L37.6,11.4 Q37.6,13.9 35.1,13.9 L20,13.9 M28.6,-13.3 L28.6,4 Q28.2,9 25.5,13.9"/>
<path d="M-37.2,12.5 L-37.2,20.1" stroke-width="1"/>
<circle cx="0" cy="0" r="27.9" fill="#fff"/>
<path stroke-width="1.25" d="M0,-38 L0,-7 M0,-4.5 L0,-2.5 M0,2 L0,38.4"/>
<path stroke-width="1.25" d="M-32,0 L-9,0 M-6,0 L-3.5,0 M1.5,0 L32,0"/>
<path stroke-width="1.25" d="M18.1,-31.3 L1.6,-2.8 M-1.2,2.1 L-17.5,30.7"/>
</g>
<g transform="translate(235.1,140.1) scale(-1,1)" stroke="#2b2b2b" stroke-width="1.6" stroke-linejoin="round" stroke-linecap="butt" fill="none">
<path fill="#bbbcbf" d="M-38.5,-44.5 L36,-44.5 Q40.3,-43 41.5,-39 L41.5,-22.1 Q41.5,-20.1 39.5,-20.1 L14,-20.1 L0,-10 L-8,-26.2 L-20,-27.2 L-41.5,-28.4 L-41.5,-41.5 Q-41.5,-44.5 -38.5,-44.5 Z"/>
<path fill="#bbbcbf" d="M-39.5,20.1 L-14,20.1 L0,10 L14,20.1 L39.5,20.1 Q41.5,20.1 41.5,22.1 L41.5,39 Q40.1,43.6 35,45.1 L-34.5,45.1 Q-40,43.6 -41.5,38.6 L-41.5,22.1 Q-41.5,20.1 -39.5,20.1 Z"/>
<path fill="#bbbcbf" stroke="none" d="M-36,-13.3 L-28.5,-13.3 L-28.5,13.9 L-36,13.9 Z"/>
<path fill="none" d="M-20,-13.3 L-35.1,-13.3 Q-37.6,-13.3 -37.6,-10.8 L-37.6,11.4 Q-37.6,13.9 -35.1,13.9 L-20,13.9 M-28.6,-13.3 L-28.6,4 Q-28.2,9 -25.5,13.9"/>
<path fill="#bbbcbf" stroke="none" d="M36,-13.3 L28.5,-13.3 L28.5,13.9 L36,13.9 Z"/>
<path fill="none" d="M20,-13.3 L35.1,-13.3 Q37.6,-13.3 37.6,-10.8 L37.6,11.4 Q37.6,13.9 35.1,13.9 L20,13.9 M28.6,-13.3 L28.6,4 Q28.2,9 25.5,13.9"/>
<path d="M-37.2,12.5 L-37.2,20.1" stroke-width="1"/>
<circle cx="0" cy="0" r="27.9" fill="#fff"/>
<path stroke-width="1.25" d="M0,-38 L0,-7 M0,-4.5 L0,-2.5 M0,2 L0,38.4"/>
<path stroke-width="1.25" d="M-32,0 L-9,0 M-6,0 L-3.5,0 M1.5,0 L32,0"/>
<path stroke-width="1.25" d="M20.8,-36.2 L1.6,-2.8 M-1.2,2.1 L-23.7,41.8"/>
</g>
<g transform="translate(235.1,397.3) scale(-1,-1)" stroke="#2b2b2b" stroke-width="1.6" stroke-linejoin="round" stroke-linecap="butt" fill="none">
<path fill="#bbbcbf" d="M-38.5,-44.5 L36,-44.5 Q40.3,-43 41.5,-39 L41.5,-22.1 Q41.5,-20.1 39.5,-20.1 L14,-20.1 L0,-10 L-8,-26.2 L-20,-27.2 L-41.5,-28.4 L-41.5,-41.5 Q-41.5,-44.5 -38.5,-44.5 Z"/>
<path fill="#bbbcbf" d="M-39.5,20.1 L-14,20.1 L0,10 L14,20.1 L39.5,20.1 Q41.5,20.1 41.5,22.1 L41.5,39 Q40.1,43.6 35,45.1 L-34.5,45.1 Q-40,43.6 -41.5,38.6 L-41.5,22.1 Q-41.5,20.1 -39.5,20.1 Z"/>
<path fill="#bbbcbf" stroke="none" d="M-36,-13.3 L-28.5,-13.3 L-28.5,13.9 L-36,13.9 Z"/>
<path fill="none" d="M-20,-13.3 L-35.1,-13.3 Q-37.6,-13.3 -37.6,-10.8 L-37.6,11.4 Q-37.6,13.9 -35.1,13.9 L-20,13.9 M-28.6,-13.3 L-28.6,4 Q-28.2,9 -25.5,13.9"/>
<path fill="#bbbcbf" stroke="none" d="M36,-13.3 L28.5,-13.3 L28.5,13.9 L36,13.9 Z"/>
<path fill="none" d="M20,-13.3 L35.1,-13.3 Q37.6,-13.3 37.6,-10.8 L37.6,11.4 Q37.6,13.9 35.1,13.9 L20,13.9 M28.6,-13.3 L28.6,4 Q28.2,9 25.5,13.9"/>
<path d="M-37.2,12.5 L-37.2,20.1" stroke-width="1"/>
<circle cx="0" cy="0" r="27.9" fill="#fff"/>
<path stroke-width="1.25" d="M0,-38 L0,-7 M0,-4.5 L0,-2.5 M0,2 L0,38.4"/>
<path stroke-width="1.25" d="M-32,0 L-9,0 M-6,0 L-3.5,0 M1.5,0 L32,0"/>
<path stroke-width="1.25" d="M18.1,-31.3 L1.6,-2.8 M-1.2,2.1 L-17.5,30.7"/>
</g>
<path d="M193.6,98 L193.6,440" stroke="#222" stroke-width="1.8" fill="none"/>
<path d="M245.2,408.8 L257.6,408.8" stroke="#555" stroke-width="1.6" fill="none"/>
<path d="M105.3,268.7 L148,268.7 M150.9,268.7 L154.8,268.7 M157.8,268.7 L228,268.7 M231.2,268.7 L234.7,268.7 M238,268.7 L278.7,268.7 M281.7,268.7 L285.1,268.7 M288.3,268.7 L302.7,268.7" stroke="#222" stroke-width="1.25" fill="none"/>
<ellipse cx="48.95" cy="272.9" rx="4.95" ry="5.75" transform="rotate(-14 48.95 272.9)" fill="none" stroke="#000" stroke-width="1.3"/><path d="M52.6,261 L45.8,286.4" stroke="#000" stroke-width="1.75" stroke-linecap="round" fill="none"/><text transform="translate(55.51,279.2) scale(0.96,1)" font-family="'Liberation Serif', serif" font-size="29.3" font-style="italic" fill="#000">D</text>
<ellipse cx="336.75" cy="272.9" rx="4.95" ry="5.75" transform="rotate(-14 336.75 272.9)" fill="none" stroke="#000" stroke-width="1.3"/><path d="M340.4,261 L333.6,286.4" stroke="#000" stroke-width="1.75" stroke-linecap="round" fill="none"/><text transform="translate(343.44,278.9) scale(1,0.85)" font-family="'Liberation Serif', serif" font-size="32" font-style="italic" fill="#000" stroke="#fff" stroke-width="0.55">d</text>
<ellipse cx="379.95" cy="272.9" rx="4.95" ry="5.75" transform="rotate(-14 379.95 272.9)" fill="none" stroke="#000" stroke-width="1.3"/><path d="M383.6,261 L376.8,286.4" stroke="#000" stroke-width="1.75" stroke-linecap="round" fill="none"/><text transform="translate(386.64,278.9) scale(1,0.85)" font-family="'Liberation Serif', serif" font-size="32" font-style="italic" fill="#000" stroke="#fff" stroke-width="0.55">d</text>
<text transform="translate(404.5,278.8) scale(1.05,1)" font-family="'Liberation Serif', serif" font-size="14.3"  fill="#000">1</text>
<ellipse cx="431.85" cy="272.9" rx="4.95" ry="5.75" transform="rotate(-14 431.85 272.9)" fill="none" stroke="#000" stroke-width="1.3"/><path d="M435.5,261 L428.7,286.4" stroke="#000" stroke-width="1.75" stroke-linecap="round" fill="none"/><text transform="translate(438.41,279.2) scale(0.96,1)" font-family="'Liberation Serif', serif" font-size="29.3" font-style="italic" fill="#000">D</text>
<text transform="translate(458.2,278.7) scale(1.2,1)" font-family="'Liberation Serif', serif" font-size="14.3"  fill="#000">2</text>
<path d="M90,80.3 Q91.8,75.7 94.1,76.3" stroke="#000" stroke-width="1.05" stroke-linecap="round" fill="none"/><path d="M95.2,76.1 L92.2,89.3" stroke="#000" stroke-width="2" stroke-linecap="butt" fill="none"/><path d="M94.5,80.7 Q97.1,75.4 100.8,75.9" stroke="#000" stroke-width="1.1" stroke-linecap="round" fill="none"/><circle cx="101.1" cy="77.4" r="1.4" fill="#000"/>
<path d="M90,181.4 Q91.8,176.8 94.1,177.4" stroke="#000" stroke-width="1.05" stroke-linecap="round" fill="none"/><path d="M95.2,177.2 L92.2,190.4" stroke="#000" stroke-width="2" stroke-linecap="butt" fill="none"/><path d="M94.5,181.8 Q97.1,176.5 100.8,177" stroke="#000" stroke-width="1.1" stroke-linecap="round" fill="none"/><circle cx="101.1" cy="178.5" r="1.4" fill="#000"/>
<path d="M289.4,87.8 Q291.2,83.2 293.5,83.8" stroke="#000" stroke-width="1.05" stroke-linecap="round" fill="none"/><path d="M294.6,83.6 L291.6,96.8" stroke="#000" stroke-width="2" stroke-linecap="butt" fill="none"/><path d="M293.9,88.2 Q296.5,82.9 300.2,83.4" stroke="#000" stroke-width="1.1" stroke-linecap="round" fill="none"/><circle cx="300.5" cy="84.9" r="1.4" fill="#000"/>
<text transform="translate(301,96.9) scale(1.05,1)" font-family="'Liberation Serif', serif" font-size="13.5"  fill="#000">1</text>
<path d="M289.9,196.8 Q291.7,192.2 294,192.8" stroke="#000" stroke-width="1.05" stroke-linecap="round" fill="none"/><path d="M295.1,192.6 L292.1,205.8" stroke="#000" stroke-width="2" stroke-linecap="butt" fill="none"/><path d="M294.4,197.2 Q297,191.9 300.7,192.4" stroke="#000" stroke-width="1.1" stroke-linecap="round" fill="none"/><circle cx="301" cy="193.9" r="1.4" fill="#000"/>
<text x="173.2" y="67.8" font-family="'Liberation Serif', serif" font-size="28.5" fill="#000">2<tspan font-style="italic">B</tspan></text>
<text x="125.7" y="477.6" font-family="'Liberation Serif', serif" font-size="28.7" fill="#000">Ultage Type</text>
<rect x="0" y="494" width="964" height="3" fill="#000"/>
<path d="M110.6,531.8 L110.6,582" stroke="#222" stroke-width="1.25" fill="none"/>
<path d="M277.4,532.6 L277.4,582" stroke="#222" stroke-width="1.25" fill="none"/>
<path d="M120,539.6 L171,539.6" stroke="#222" stroke-width="1.25" fill="none"/>
<path d="M215.3,539.6 L268,539.6" stroke="#222" stroke-width="1.25" fill="none"/>
<polygon points="111.2,539.6 121.7,536.1 121.7,543.1" fill="#000"/>
<polygon points="276.6,539.6 266.1,536.1 266.1,543.1" fill="#000"/>
<path d="M39.5,581.5 L120,581.5" stroke="#222" stroke-width="1.25" fill="none"/>
<path d="M40,915.6 L107.5,915.6" stroke="#222" stroke-width="1.25" fill="none"/>
<path d="M43.6,582 L43.6,730" stroke="#222" stroke-width="1.25" fill="none"/>
<path d="M43.6,767 L43.6,915.1" stroke="#222" stroke-width="1.25" fill="none"/>
<polygon points="43.6,581.5 40.1,597.5 47.1,597.5" fill="#000"/>
<polygon points="43.6,915.6 40.1,899.6 47.1,899.6" fill="#000"/>
<path d="M282.6,598.2 L438.2,598.2" stroke="#222" stroke-width="1.25" fill="none"/>
<path d="M280.6,899.9 L439,899.9" stroke="#222" stroke-width="1.25" fill="none"/>
<path d="M282.6,642.5 L392.3,642.5" stroke="#222" stroke-width="1.25" fill="none"/>
<path d="M280.6,856 L392.7,856" stroke="#222" stroke-width="1.25" fill="none"/>
<path d="M278.8,665.7 L346.6,665.7" stroke="#222" stroke-width="1.25" fill="none"/>
<path d="M280.6,831.8 L347.4,831.8" stroke="#222" stroke-width="1.25" fill="none"/>
<path d="M434.8,598.7 L434.8,729.6" stroke="#222" stroke-width="1.25" fill="none"/>
<path d="M434.8,767.3 L434.8,899.4" stroke="#222" stroke-width="1.25" fill="none"/>
<polygon points="434.8,598.2 431.3,614.2 438.3,614.2" fill="#000"/>
<polygon points="434.8,899.9 431.3,883.9 438.3,883.9" fill="#000"/>
<path d="M388.6,643 L388.6,729.6" stroke="#222" stroke-width="1.25" fill="none"/>
<path d="M388.6,767.3 L388.6,855.5" stroke="#222" stroke-width="1.25" fill="none"/>
<polygon points="388.6,642.5 385.1,658.5 392.1,658.5" fill="#000"/>
<polygon points="388.6,856 385.1,840 392.1,840" fill="#000"/>
<path d="M342.4,666.2 L342.4,729.6" stroke="#222" stroke-width="1.25" fill="none"/>
<path d="M342.4,767.3 L342.4,831.3" stroke="#222" stroke-width="1.25" fill="none"/>
<polygon points="342.4,665.7 338.9,681.7 345.9,681.7" fill="#000"/>
<polygon points="342.4,831.8 338.9,815.8 345.9,815.8" fill="#000"/>
<path d="M110.2,582 L110.2,917" stroke="#222" stroke-width="1.8" fill="none"/>
<path d="M277.3,582 L277.3,917" stroke="#222" stroke-width="1.2" fill="none"/>
<g transform="translate(151.4,624) scale(1,1)" stroke="#2b2b2b" stroke-width="1.6" stroke-linejoin="round" fill="none">
<path fill="#bbbcbf" d="M-36.7,-42.5 L35.3,-42.5 L42.3,-35 L42.3,-19 Q42.3,-17.1 40.3,-17.1 L12,-17.1 L0,-8 L-7,-23.9 L-41.2,-25.7 L-41.2,-38 Q-41.2,-42.5 -36.7,-42.5 Z"/>
<path fill="#bbbcbf" d="M-41.2,16.4 L-16,16.4 L0,6 L14,19.8 L42.3,19.8 L42.3,34 L33.3,41.7 L-32.2,41.7 L-41.2,34.6 Z"/>
<path fill="#bbbcbf" d="M-37.3,-7 Q-37.3,-8.9 -35.4,-8.9 L-20,-8.9 L-20,8.6 L-35.4,6.7 Q-37.3,6.5 -37.3,4.7 Z"/>
<path fill="#bbbcbf" d="M36.8,-7 Q36.8,-8.9 34.9,-8.9 L20,-8.9 L20,8.6 L34.9,6.9 Q36.8,6.7 36.8,4.9 Z"/>
<path d="M-36.7,6 L-36.7,16.4 M37.3,-8 L37.3,19.8" stroke-width="1"/>
<path d="M-26.1,-8.9 L-26.1,8 M26.1,-8.9 L26.1,8" stroke-width="2.6"/>
<circle cx="0" cy="0" r="24.9" fill="#fff"/>
<path stroke-width="1.25" d="M0,-33.4 L0,-2 M0,3 L0,7 M0,10 L0,41"/>
<path stroke-width="1.25" d="M16.5,-29.3 L-23.9,41.2"/>
</g>
<g transform="translate(151.4,874.4) scale(1,-1)" stroke="#2b2b2b" stroke-width="1.6" stroke-linejoin="round" fill="none">
<path fill="#bbbcbf" d="M-36.7,-42.5 L35.3,-42.5 L42.3,-35 L42.3,-19 Q42.3,-17.1 40.3,-17.1 L12,-17.1 L0,-8 L-7,-23.9 L-41.2,-25.7 L-41.2,-38 Q-41.2,-42.5 -36.7,-42.5 Z"/>
<path fill="#bbbcbf" d="M-41.2,16.4 L-16,16.4 L0,6 L14,19.8 L42.3,19.8 L42.3,34 L33.3,41.7 L-32.2,41.7 L-41.2,34.6 Z"/>
<path fill="#bbbcbf" d="M-37.3,-7 Q-37.3,-8.9 -35.4,-8.9 L-20,-8.9 L-20,8.6 L-35.4,6.7 Q-37.3,6.5 -37.3,4.7 Z"/>
<path fill="#bbbcbf" d="M36.8,-7 Q36.8,-8.9 34.9,-8.9 L20,-8.9 L20,8.6 L34.9,6.9 Q36.8,6.7 36.8,4.9 Z"/>
<path d="M-36.7,6 L-36.7,16.4 M37.3,-8 L37.3,19.8" stroke-width="1"/>
<path d="M-26.1,-8.9 L-26.1,8 M26.1,-8.9 L26.1,8" stroke-width="2.6"/>
<circle cx="0" cy="0" r="24.9" fill="#fff"/>
<path stroke-width="1.25" d="M0,-33.4 L0,-2 M0,3 L0,7 M0,10 L0,41"/>
<path stroke-width="1.25" d="M17.1,-29.4 L-16.6,28.8"/>
</g>
<g transform="translate(236,624) scale(-1,1)" stroke="#2b2b2b" stroke-width="1.6" stroke-linejoin="round" fill="none">
<path fill="#bbbcbf" d="M-36.7,-42.5 L35.3,-42.5 L42.3,-35 L42.3,-19 Q42.3,-17.1 40.3,-17.1 L12,-17.1 L0,-8 L-7,-23.9 L-41.2,-25.7 L-41.2,-38 Q-41.2,-42.5 -36.7,-42.5 Z"/>
<path fill="#bbbcbf" d="M-41.2,16.4 L-16,16.4 L0,6 L14,19.8 L42.3,19.8 L42.3,34 L33.3,41.7 L-32.2,41.7 L-41.2,34.6 Z"/>
<path fill="#bbbcbf" d="M-37.3,-7 Q-37.3,-8.9 -35.4,-8.9 L-20,-8.9 L-20,8.6 L-35.4,6.7 Q-37.3,6.5 -37.3,4.7 Z"/>
<path fill="#bbbcbf" d="M36.8,-7 Q36.8,-8.9 34.9,-8.9 L20,-8.9 L20,8.6 L34.9,6.9 Q36.8,6.7 36.8,4.9 Z"/>
<path d="M-36.7,6 L-36.7,16.4 M37.3,-8 L37.3,19.8" stroke-width="1"/>
<path d="M-26.1,-8.9 L-26.1,8 M26.1,-8.9 L26.1,8" stroke-width="2.6"/>
<circle cx="0" cy="0" r="24.9" fill="#fff"/>
<path stroke-width="1.25" d="M0,-33.4 L0,-2 M0,3 L0,7 M0,10 L0,41"/>
<path stroke-width="1.25" d="M16.5,-29.3 L-23.9,41.2"/>
</g>
<g transform="translate(236,874.4) scale(-1,-1)" stroke="#2b2b2b" stroke-width="1.6" stroke-linejoin="round" fill="none">
<path fill="#bbbcbf" d="M-36.7,-42.5 L35.3,-42.5 L42.3,-35 L42.3,-19 Q42.3,-17.1 40.3,-17.1 L12,-17.1 L0,-8 L-7,-23.9 L-41.2,-25.7 L-41.2,-38 Q-41.2,-42.5 -36.7,-42.5 Z"/>
<path fill="#bbbcbf" d="M-41.2,16.4 L-16,16.4 L0,6 L14,19.8 L42.3,19.8 L42.3,34 L33.3,41.7 L-32.2,41.7 L-41.2,34.6 Z"/>
<path fill="#bbbcbf" d="M-37.3,-7 Q-37.3,-8.9 -35.4,-8.9 L-20,-8.9 L-20,8.6 L-35.4,6.7 Q-37.3,6.5 -37.3,4.7 Z"/>
<path fill="#bbbcbf" d="M36.8,-7 Q36.8,-8.9 34.9,-8.9 L20,-8.9 L20,8.6 L34.9,6.9 Q36.8,6.7 36.8,4.9 Z"/>
<path d="M-36.7,6 L-36.7,16.4 M37.3,-8 L37.3,19.8" stroke-width="1"/>
<path d="M-26.1,-8.9 L-26.1,8 M26.1,-8.9 L26.1,8" stroke-width="2.6"/>
<circle cx="0" cy="0" r="24.9" fill="#fff"/>
<path stroke-width="1.25" d="M0,-33.4 L0,-2 M0,3 L0,7 M0,10 L0,41"/>
<path stroke-width="1.25" d="M17.1,-29.4 L-16.6,28.8"/>
</g>
<path d="M193.7,582 L193.7,917" stroke="#222" stroke-width="2.2" fill="none"/>
<path d="M104.3,624.1 L147.9,624.1 M150.6,624.1 L153.7,624.1 M157.2,624.1 L229.9,624.1 M232.5,624.1 L236,624.1 M239.2,624.1 L283.8,624.1" stroke="#3a3a3a" stroke-width="1.3" fill="none"/>
<path d="M104.3,874.4 L147.9,874.4 M150.6,874.4 L153.7,874.4 M157.2,874.4 L229.9,874.4 M232.5,874.4 L236,874.4 M239.2,874.4 L283.8,874.4" stroke="#3a3a3a" stroke-width="1.3" fill="none"/>
<path d="M94.5,749.3 L271.2,749.3 M274.2,749.3 L278,749.3 M281.7,749.3 L308.6,749.3" stroke="#111" stroke-width="1.15" fill="none"/>
<ellipse cx="33.75" cy="750.2" rx="4.95" ry="5.75" transform="rotate(-14 33.75 750.2)" fill="none" stroke="#000" stroke-width="1.3"/><path d="M37.4,738.3 L30.6,763.7" stroke="#000" stroke-width="1.75" stroke-linecap="round" fill="none"/><text transform="translate(40.31,756.5) scale(0.96,1)" font-family="'Liberation Serif', serif" font-size="29.3" font-style="italic" fill="#000">D</text>
<ellipse cx="333.85" cy="750.3" rx="4.95" ry="5.75" transform="rotate(-14 333.85 750.3)" fill="none" stroke="#000" stroke-width="1.3"/><path d="M337.5,738.4 L330.7,763.8" stroke="#000" stroke-width="1.75" stroke-linecap="round" fill="none"/><text transform="translate(340.54,756.3) scale(1,0.85)" font-family="'Liberation Serif', serif" font-size="32" font-style="italic" fill="#000" stroke="#fff" stroke-width="0.55">d</text>
<ellipse cx="375.65" cy="750.3" rx="4.95" ry="5.75" transform="rotate(-14 375.65 750.3)" fill="none" stroke="#000" stroke-width="1.3"/><path d="M379.3,738.4 L372.5,763.8" stroke="#000" stroke-width="1.75" stroke-linecap="round" fill="none"/><text transform="translate(382.34,756.3) scale(1,0.85)" font-family="'Liberation Serif', serif" font-size="32" font-style="italic" fill="#000" stroke="#fff" stroke-width="0.55">d</text>
<text transform="translate(400.2,756.2) scale(1.05,1)" font-family="'Liberation Serif', serif" font-size="14.3"  fill="#000">1</text>
<ellipse cx="419.35" cy="750.3" rx="4.95" ry="5.75" transform="rotate(-14 419.35 750.3)" fill="none" stroke="#000" stroke-width="1.3"/><path d="M423,738.4 L416.2,763.8" stroke="#000" stroke-width="1.75" stroke-linecap="round" fill="none"/><text transform="translate(425.91,756.6) scale(0.96,1)" font-family="'Liberation Serif', serif" font-size="29.3" font-style="italic" fill="#000">D</text>
<text transform="translate(445.7,756.1) scale(1.2,1)" font-family="'Liberation Serif', serif" font-size="14.3"  fill="#000">2</text>
<path d="M91.1,561 Q92.9,556.4 95.2,557" stroke="#000" stroke-width="1.05" stroke-linecap="round" fill="none"/><path d="M96.3,556.8 L93.3,570" stroke="#000" stroke-width="2" stroke-linecap="butt" fill="none"/><path d="M95.6,561.4 Q98.2,556.1 101.9,556.6" stroke="#000" stroke-width="1.1" stroke-linecap="round" fill="none"/><circle cx="102.2" cy="558.1" r="1.4" fill="#000"/>
<path d="M92.5,669 Q94.3,664.4 96.6,665" stroke="#000" stroke-width="1.05" stroke-linecap="round" fill="none"/><path d="M97.7,664.8 L94.7,678" stroke="#000" stroke-width="2" stroke-linecap="butt" fill="none"/><path d="M97,669.4 Q99.6,664.1 103.3,664.6" stroke="#000" stroke-width="1.1" stroke-linecap="round" fill="none"/><circle cx="103.6" cy="666.1" r="1.4" fill="#000"/>
<path d="M287,577.4 Q288.8,572.8 291.1,573.4" stroke="#000" stroke-width="1.05" stroke-linecap="round" fill="none"/><path d="M292.2,573.2 L289.2,586.4" stroke="#000" stroke-width="2" stroke-linecap="butt" fill="none"/><path d="M291.5,577.8 Q294.1,572.5 297.8,573" stroke="#000" stroke-width="1.1" stroke-linecap="round" fill="none"/><circle cx="298.1" cy="574.5" r="1.4" fill="#000"/>
<text transform="translate(298.6,586.5) scale(1.05,1)" font-family="'Liberation Serif', serif" font-size="13.5"  fill="#000">1</text>
<path d="M287,678.2 Q288.8,673.6 291.1,674.2" stroke="#000" stroke-width="1.05" stroke-linecap="round" fill="none"/><path d="M292.2,674 L289.2,687.2" stroke="#000" stroke-width="2" stroke-linecap="butt" fill="none"/><path d="M291.5,678.6 Q294.1,673.3 297.8,673.8" stroke="#000" stroke-width="1.1" stroke-linecap="round" fill="none"/><circle cx="298.1" cy="675.3" r="1.4" fill="#000"/>
<text x="178.6" y="548.4" font-family="'Liberation Serif', serif" font-size="28.5" fill="#000">2<tspan font-style="italic">B</tspan></text>
<text x="108.4" y="952.4" font-family="'Liberation Serif', serif" font-size="28.7" fill="#000">Precision Type</text>
<rect x="0" y="0" width="964" height="1" fill="#000"/>
<rect x="0" y="0" width="1" height="494" fill="#000"/>
<rect x="0" y="494" width="2" height="494" fill="#000"/>
<rect x="962" y="0" width="2" height="988" fill="#000"/>
<rect x="0" y="986" width="964" height="2" fill="#000"/>
</svg>
</body></html>
